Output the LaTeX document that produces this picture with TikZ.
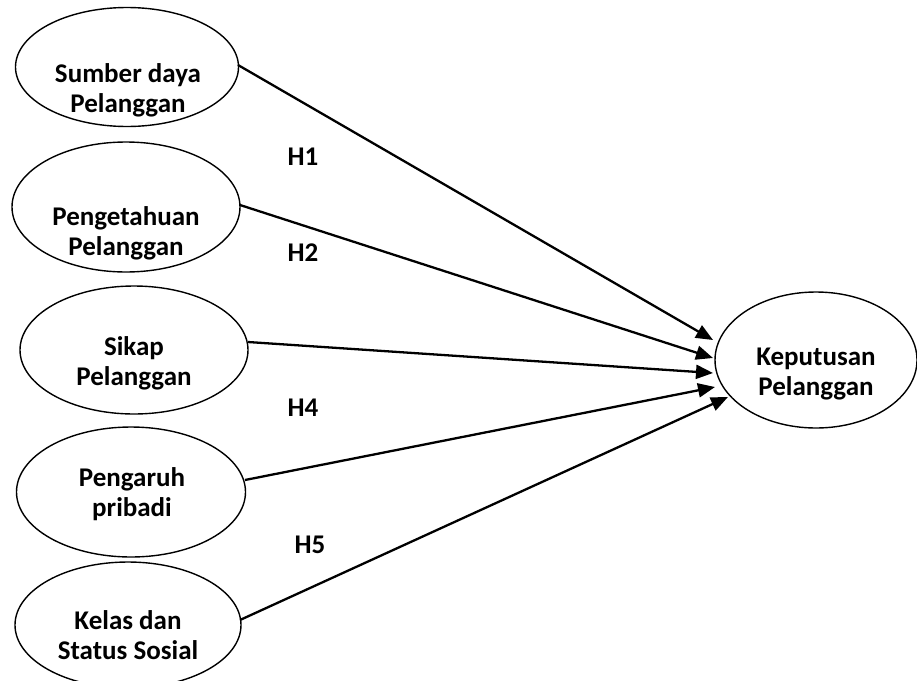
\documentclass[tikz,border=0pt]{standalone}
\usepackage{fontspec}
\setmainfont{Carlito}
\usetikzlibrary{shapes.geometric,arrows.meta}
\tikzset{
  oval/.style={draw=black, line width=1.4pt, ellipse, inner sep=0pt},
  lbl/.style={font=\bfseries\fontsize{27}{30}\selectfont, align=center, inner sep=0pt},
  hyp/.style={font=\bfseries\fontsize{27}{30}\selectfont, inner sep=0pt},
  link/.style={line width=2.3pt, -{Triangle[length=17pt,width=14pt]}}
}
\begin{document}
\begin{tikzpicture}[x=1pt,y=-1pt]
\useasboundingbox (0,0) rectangle (917,680);
% left ellipses
\node[oval, minimum width=223pt, minimum height=119pt] (e1) at (127,67) {};
\node[oval, minimum width=228pt, minimum height=130pt] (e2) at (126,207) {};
\node[oval, minimum width=228pt, minimum height=128pt] (e3) at (134,350) {};
\node[oval, minimum width=229pt, minimum height=130pt] (e4) at (131,492) {};
\node[oval, minimum width=226pt, minimum height=126pt] (e5) at (128,625) {};
% right ellipse
\node[oval, minimum width=202pt, minimum height=136pt] (k) at (816,360) {};
% texts
\node[lbl] (t1) at (128,90) {Sumber daya\\Pelanggan};
\node[lbl] (t2) at (126,233) {Pengetahuan\\Pelanggan};
\node[lbl] (t3) at (134,363) {Sikap\\Pelanggan};
\node[lbl] (t4) at (132,494) {Pengaruh\\pribadi};
\node[lbl] (t5) at (128,635) {Kelas dan\\Status Sosial};
\node[lbl] (tk) at (816,374) {Keputusan\\Pelanggan};
% hypothesis labels
\node[hyp] (h1) at (303,157) {H1};
\node[hyp] (h2) at (303,253) {H2};
\node[hyp] (h4) at (303,408) {H4};
\node[hyp] (h5) at (310,545) {H5};
% arrow end points
\coordinate (k1) at (713,340);
\coordinate (k2) at (713,358);
\coordinate (k3) at (713,373);
\coordinate (k4) at (715,387);
\coordinate (k5) at (728,397);
\coordinate (s1) at (238,65);
\coordinate (s2) at (240,205);
\coordinate (s3) at (248,342);
\coordinate (s4) at (245,480);
\coordinate (s5) at (240,620);
\draw[link] (s1) -- (k1);
\draw[link] (s2) -- (k2);
\draw[link] (s3) -- (k3);
\draw[link] (s4) -- (k4);
\draw[link] (s5) -- (k5);
\end{tikzpicture}
\end{document}
